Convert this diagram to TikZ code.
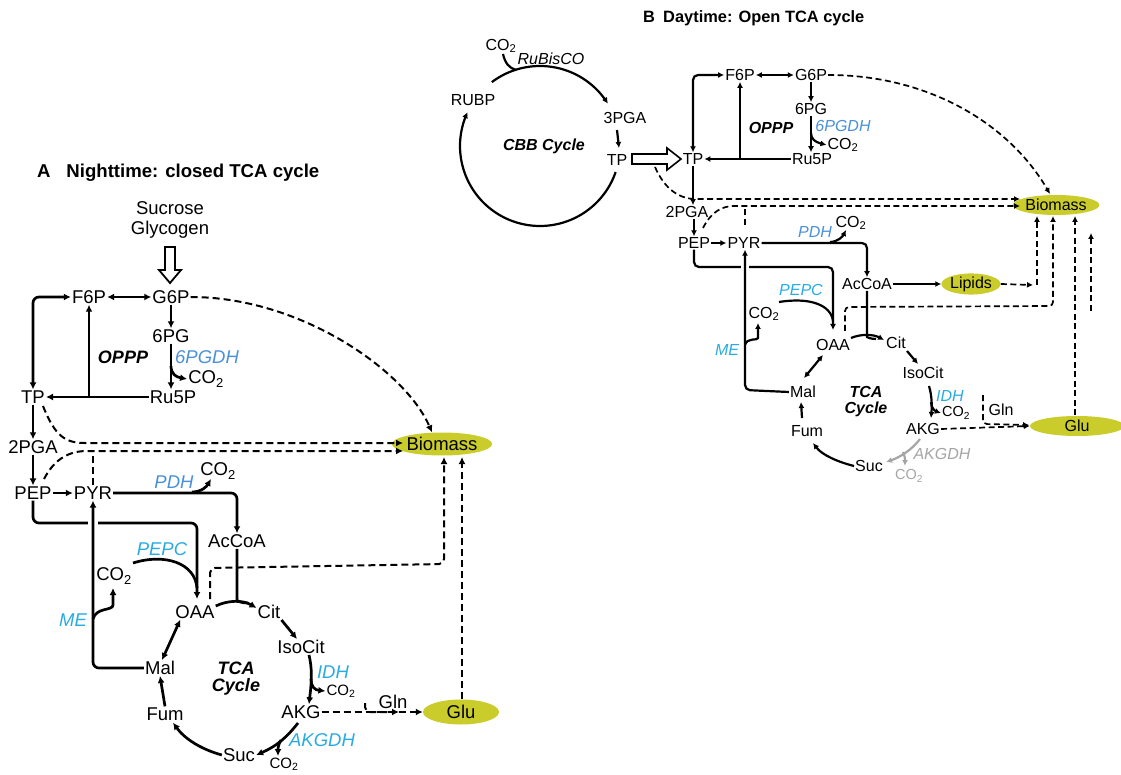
\documentclass[tikz,border=0pt]{standalone}
\usepackage{fontspec}
\setmainfont{Liberation Sans}
\usetikzlibrary{arrows.meta,calc,shapes.geometric}
\definecolor{dblue}{RGB}{74,144,217}
\definecolor{cyanb}{RGB}{41,171,226}
\definecolor{olivey}{RGB}{201,204,42}
\definecolor{grayc}{RGB}{165,165,165}
\tikzset{
 tA/.style={font=\fontsize{18.5}{20}\selectfont, inner sep=1pt},
 tB/.style={font=\fontsize{16}{18}\selectfont, inner sep=1pt},
 iA/.style={font=\itshape\fontsize{18.5}{20}\selectfont, inner sep=1pt},
 iB/.style={font=\itshape\fontsize{16}{18}\selectfont, inner sep=1pt},
 bA/.style={font=\bfseries\itshape\fontsize{18}{20}\selectfont, inner sep=1pt, align=center},
 bB/.style={font=\bfseries\itshape\fontsize{16}{18}\selectfont, inner sep=1pt, align=center},
 smA/.style={font=\fontsize{15}{17}\selectfont, inner sep=1pt},
 smB/.style={font=\fontsize{14.5}{16}\selectfont, inner sep=1pt},
 bio/.style={ellipse, fill=olivey, inner sep=0pt},
 sA/.style={line width=2.7pt, rounded corners=6pt},
 sB/.style={line width=2.2pt, rounded corners=5pt},
 dA/.style={line width=2pt, dash pattern=on 7pt off 4pt, rounded corners=5pt},
 dB/.style={line width=1.7pt, dash pattern=on 6pt off 3.5pt, rounded corners=4pt},
 ta/.style={-{Latex[length=7pt,width=7pt]}},
 tab/.style={{Latex[length=7pt,width=7pt]}-{Latex[length=7pt,width=7pt]}},
 tb/.style={-{Latex[length=6pt,width=6pt]}},
 tbb/.style={{Latex[length=6pt,width=6pt]}-{Latex[length=6pt,width=6pt]}},
}
\begin{document}
\begin{tikzpicture}[x=1pt,y=-1pt]
\useasboundingbox (0,0) rectangle (1121,775);

%================ PANEL A =================
\node[anchor=west, font=\bfseries\fontsize{18.6}{20}\selectfont, inner sep=0pt] (titA) at (37,173) {A\hspace{0.85em}Nighttime: closed TCA cycle};

\node[tA] (sucr) at (170,208) {Sucrose};
\node[tA] (glyc) at (170,230) {Glycogen};
\draw[line width=1.8pt, fill=white, line join=miter] (165,247) -- (175,247) -- (175,270) -- (181,270) -- (170,283) -- (159,270) -- (165,270) -- cycle;

\node[tA] (F6P) at (89,297) {F6P};
\node[tA] (G6P) at (171,297) {G6P};
\node[tA] (PGa) at (171,336) {6PG};
\node[tA] (Ru5P) at (173,397) {Ru5P};
\node[tA] (TP) at (33,397) {TP};
\node[tA] (PGA) at (33,447) {2PGA};
\node[tA] (PEP) at (33,493) {PEP};
\node[tA] (PYR) at (93,493) {PYR};
\node[tA] (AcCoA) at (237,541) {AcCoA};
\node[tA] (OAA) at (195,612) {OAA};
\node[tA] (Cit) at (269,612) {Cit};
\node[tA] (IsoCit) at (301,647) {IsoCit};
\node[tA] (AKG) at (301,712) {AKG};
\node[tA] (Suc) at (239,755) {Suc};
\node[tA] (Fum) at (165,714) {Fum};
\node[tA] (Mal) at (160,668) {Mal};
\node[tA, bio, minimum width=85, minimum height=23] (Bio) at (442,444) {Biomass};
\node[tA, bio, minimum width=76, minimum height=25] (Glu) at (461,712) {Glu};

\node[bA] (OPPP) at (123,357) {OPPP};
\node[iA, text=dblue] (PGDH) at (207,357) {6PGDH};
\node[tA] (co2a) at (206,379) {CO\textsubscript{2}};
\node[iA, text=dblue] (PDH) at (174,482) {PDH};
\node[tA] (co2pdh) at (218,471) {CO\textsubscript{2}};
\node[iA, text=cyanb] (PEPC) at (162,549) {PEPC};
\node[tA] (co2me) at (114,576) {CO\textsubscript{2}};
\node[iA, text=cyanb] (ME) at (73,620) {ME};
\node[iA, text=cyanb] (IDH) at (333,672) {IDH};
\node[smA] (co2idh) at (341,691) {CO\textsubscript{2}};
\node[iA, text=cyanb] (AKGDH) at (322,740) {AKGDH};
\node[smA] (co2akg) at (284,764) {CO\textsubscript{2}};
\node[tA] (Gln) at (393,702) {Gln};
\node[bA] (TCA) at (236,679) {TCA\\[-3pt]Cycle};

% solid connectors A
\draw[sA,tab] (F6P.east) -- (G6P.west);
\draw[sA,ta] (G6P.south) -- (PGa.north);
\draw[sA,ta] (PGa.south) -- (PGa.south |- Ru5P.north);
\draw[sA,ta] (171,366) .. controls (171,374) and (176,377) .. (co2a.west);
\draw[sA,ta] (Ru5P.west) -- (TP.east);
\draw[sA,ta] (F6P.south |- Ru5P.west) -- (F6P.south);
\draw[sA,tab] (TP.north) -- (TP.north |- F6P.west) -- (F6P.west);
\draw[sA,ta] (TP.south) -- (PGA.north);
\draw[sA,ta] (PGA.south) -- (PEP.north);
\draw[sA,ta] (PEP.east) -- (PYR.west);
\draw[sA,ta] (PYR.east) -- (PYR.east -| AcCoA.north) -- (AcCoA.north);
\draw[sA,ta] (192,492) .. controls (202,492) and (207,486) .. (211,479);
\draw[sA,ta] (PEP.south) -- (33,523) -- (197,523) -- (197,599);
\fill[white] (88,517) rectangle (98,529);
\draw[sA,ta] (Mal.west) -- (Mal.west -| PYR.south) -- (PYR.south);
\draw[sA,ta] (93,619) .. controls (96,607) and (113,611) .. (113,599) -- (113,588);
\draw[sA] (133,563) .. controls (165,553) and (195,563) .. (197,588);
\draw[sA] (AcCoA.south) -- (237,594) .. controls (237,601) and (241,603) .. (248,603);
\draw[sA,ta] ($(OAA.east)+(0,-6)$) .. controls (228,600) and (243,600) .. ($(Cit.west)+(0,-4)$);
\draw[sA,ta] (Cit.south east) -- ($(IsoCit.north)+(-4,0)$);
\draw[sA,ta] ($(IsoCit.south)+(8,0)$) .. controls (313,672) and (311,686) .. ($(AKG.north)+(8,0)$);
\draw[sA,ta] (311,679) .. controls (311,687) and (315,690) .. (co2idh.west);
\draw[sA,ta] (298,723) .. controls (287,737) and (277,746) .. (Suc.east);
\draw[sA,ta] (281,740) .. controls (278,745) and (278,749) .. (278,756);
\draw[sA,ta] (Suc.west) .. controls (200,749) and (184,738) .. ($(Fum.south)+(8,1)$);
\draw[sA,ta] (Fum.north) -- (Mal.south);
\draw[sA,tab] ($(OAA.south west)+(6,0)$) -- ($(Mal.north)+(2,0)$);

% dashed connectors A
\draw[dA,ta] (G6P.east) .. controls (300,297) and (405,370) .. ($(Bio.north)+(-10,0)$);
\draw[dA,ta] (43,406) .. controls (55,436) and (65,443) .. (90,443) -- (403,443);
\draw[dA,ta] (44,479) .. controls (55,458) and (70,451) .. (92,451) -- (403,451);
\draw[dA] (PYR.north) -- (93,451);
\draw[dA,ta] (210,599) -- (210,568) -- (444,564) -- (444,457);
\draw[dA,ta] (Glu.north -| 462,0) -- (462,457);
\draw[dA,ta] (AKG.east) -- (Glu.west);
\draw[dA,ta] (365,703) -- (365,712) -- (399,712);

%================ PANEL B =================
\node[anchor=west, font=\bfseries\fontsize{16.4}{18}\selectfont, inner sep=0pt] (titB) at (643,18) {B\hspace{0.5em}Daytime: Open TCA cycle};

\node[tB] (co2rub) at (501,46) {CO\textsubscript{2}};
\node[iB] (rub) at (551,59) {RuBisCO};
\node[tB] (RUBP) at (473,100) {RUBP};
\node[tB] (PGA3) at (625,118) {3PGA};
\node[tB] (TPc) at (617,160) {TP};
\node[bB] (CBB) at (544,146) {CBB Cycle};

\draw[line width=2.2pt, tb] plot[domain=233:328, samples=50] ({540+80*cos(\x)},{146+80*sin(\x)});
\draw[line width=2.2pt, tb] plot[domain=19:205, samples=90] ({540+80*cos(\x)},{146+80*sin(\x)});
\draw[sB] (503,54) .. controls (505,63) and (509,68) .. (516,70);
\draw[sB,tb] (617,130) -- (619,148);
\draw[line width=1.6pt, fill=white, line join=miter] (632,154) -- (667,154) -- (667,148) -- (681,159) -- (667,170) -- (667,164) -- (632,164) -- cycle;

\node[tB] (TPb) at (693,159) {TP};
\node[tB] (F6Pb) at (740,75) {F6P};
\node[tB] (G6Pb) at (811,75) {G6P};
\node[tB] (PGb) at (811,109) {6PG};
\node[iB, text=dblue] (PGDHb) at (843,126) {6PGDH};
\node[tB] (co2b) at (843,145) {CO\textsubscript{2}};
\node[tB] (Ru5Pb) at (812,159) {Ru5P};
\node[bB] (OPPPb) at (771,128) {OPPP};
\node[tB] (PGAb) at (687,212) {2PGA};
\node[tB] (PEPb) at (694,243) {PEP};
\node[tB] (PYRb) at (744,243) {PYR};
\node[iB, text=dblue] (PDHb) at (815,232) {PDH};
\node[tB] (co2pdhb) at (851,223) {CO\textsubscript{2}};
\node[tB] (AcCoAb) at (867,284) {AcCoA};
\node[tB, bio, minimum width=54, minimum height=19] (Lip) at (971,284) {Lipids};
\node[tB, bio, minimum width=74, minimum height=20] (Biob) at (1056,205) {Biomass};
\node[iB, text=cyanb] (PEPCb) at (801,290) {PEPC};
\node[tB] (co2meb) at (764,314) {CO\textsubscript{2}};
\node[iB, text=cyanb] (MEb) at (727,350) {ME};
\node[tB] (OAAb) at (833,345) {OAA};
\node[tB] (Citb) at (896,343) {Cit};
\node[tB] (IsoCitb) at (923,373) {IsoCit};
\node[iB, text=cyanb] (IDHb) at (950,396) {IDH};
\node[smB] (co2idhb) at (956,413) {CO\textsubscript{2}};
\node[tB] (AKGb) at (923,429) {AKG};
\node[tB] (Glnb) at (1001,410) {Gln};
\node[tB, bio, minimum width=94, minimum height=20] (Glub) at (1077,426) {Glu};
\node[bB] (TCAb) at (866,402) {TCA\\[-2pt]Cycle};
\node[tB] (Malb) at (803,392) {Mal};
\node[tB] (Fumb) at (807,431) {Fum};
\node[tB] (Sucb) at (869,466) {Suc};
\node[iB, text=grayc] (AKGDHb) at (942,454) {AKGDH};
\node[smB, text=grayc] (co2akgb) at (909,476) {CO\textsubscript{2}};

% solid connectors B
\draw[sB,tbb] (TPb.north) -- (TPb.north |- F6Pb.west) -- (F6Pb.west);
\draw[sB,tbb] (F6Pb.east) -- (G6Pb.west);
\draw[sB,tb] (G6Pb.south) -- (PGb.north);
\draw[sB,tb] (PGb.south) -- (PGb.south |- Ru5Pb.north);
\draw[sB,tb] (811,133) .. controls (811,139) and (815,142) .. (co2b.west);
\draw[sB,tb] (Ru5Pb.west) -- (TPb.east);
\draw[sB,tb] (F6Pb.south |- Ru5Pb.west) -- (F6Pb.south);
\draw[sB,tb] (TPb.south) -- (TPb.south |- PGAb.north);
\draw[sB,tb] (PEPb.north |- PGAb.south) -- (PEPb.north);
\draw[sB,tb] (PEPb.east) -- (PYRb.west);
\draw[sB,tb] (PYRb.east) -- (PYRb.east -| AcCoAb.north) -- (AcCoAb.north);
\draw[sB,tb] (830,242) .. controls (838,242) and (843,236) .. (846,230);
\draw[sB,tb] (PEPb.south) -- (694,267) -- (833,267) -- (833,330);
\fill[white] (741,262) rectangle (749,272);
\draw[sB,tb] (Malb.west) -- (745,390) -- (PYRb.south -| 745,0);
\draw[sB,tb] (745,345) .. controls (747,337) and (758,341) .. (758,333) -- (758,323);
\draw[sB] (779,302) .. controls (810,297) and (831,305) .. (833,321);
\draw[sB,tb] (AcCoAb.east) -- (Lip.west);
\draw[sB] (AcCoAb.south) -- (867,332) .. controls (867,337) and (870,339) .. (876,339);
\draw[sB,tb] (851,338) .. controls (860,334) and (873,334) .. (884,340);
\draw[sB,tb] (907,351) -- (918,364);
\draw[sB,tb] (929,386) .. controls (932,396) and (932,406) .. (931,418);
\draw[sB,tb] (931,402) .. controls (931,408) and (935,411) .. (co2idhb.west);
\draw[sB,draw=grayc,-{Latex[length=6pt,width=6pt,fill=grayc]}] (920,439) .. controls (911,451) and (898,458) .. (886,462);
\draw[sB,draw=grayc,-{Latex[length=6pt,width=6pt,fill=grayc]}] (903,452) .. controls (905,456) and (905,460) .. (905,466);
\draw[sB,tb] (Sucb.west) .. controls (838,462) and (822,455) .. (813,443);
\draw[sB,tb] (802,418) -- (801,402);
\draw[sB,tbb] (823,355) -- (804,378);

% dashed connectors B
\draw[dB,tb] (G6Pb.east) .. controls (930,75) and (1010,125) .. (1050,194);
\draw[dB,tb] (655,167) .. controls (665,190) and (680,199) .. (700,199) -- (1020,199);
\draw[dB,tb] (703,228) .. controls (711,212) and (722,206) .. (738,206) -- (1020,206);
\draw[dB] (745,225) -- (745,206);
\draw[dB,tb] (Lip.east) -- (1033,285);
\draw[dB,tb] (1037,285) -- (1037,216);
\draw[dB,tb] (845,331) -- (845,307) -- (1053,306) -- (1053,216);
\draw[dB,tb] (1075,415) -- (1075,216);
\draw[dB,tb] (1091,311) -- (1091,233);
\draw[dB,tb] (AKGb.east) -- (Glub.west);
\draw[dB,tb] (983,395) -- (983,424) -- (1029,425);
\end{tikzpicture}
\end{document}
